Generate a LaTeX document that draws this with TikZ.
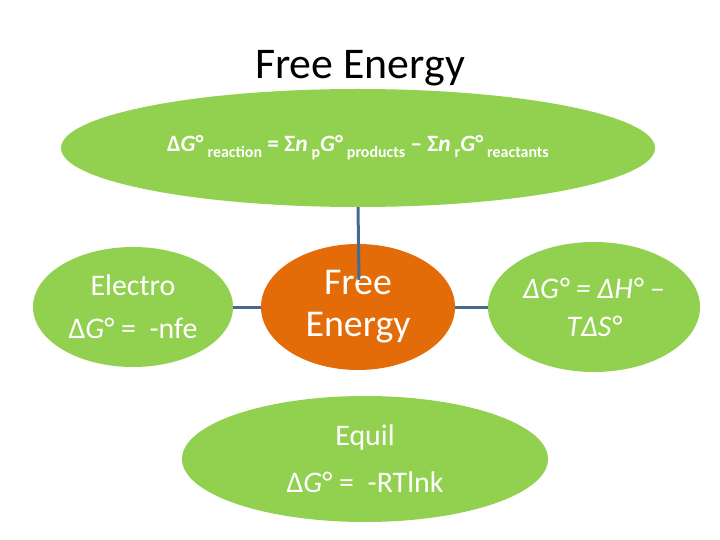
\documentclass[tikz,border=0pt]{standalone}
\usepackage{fontspec}
\setmainfont{Carlito}
\usetikzlibrary{shapes.geometric,positioning}
\definecolor{leafgreen}{RGB}{146,208,80}
\definecolor{hubor}{RGB}{227,108,9}
\definecolor{linkblue}{RGB}{68,106,148}
\newcommand{\lowsub}[1]{\,\raisebox{-0.55ex}{\fontsize{16}{16}\selectfont #1}}

\begin{document}
\begin{tikzpicture}[x=1bp, y=-1bp, every node/.style={font=\fontsize{30}{43}\selectfont}]
\tikzset{
    bubble/.style={ellipse, fill=leafgreen, text=white, inner sep=-14bp, align=center},
    hub/.style={bubble, fill=hubor},
    link/.style={linkblue, line width=3bp}
}
\useasboundingbox (0,0) rectangle (720,540);

% heading
\node[font=\fontsize{44}{44}\selectfont] (title) at (360,68) {Free Energy};

% the five bubbles
\node[bubble, minimum width=594bp, minimum height=118bp, font=\fontsize{23.5}{24}\selectfont\bfseries] (top) at (358,148)
    {Δ\textit{G}°\lowsub{reaction} = Σ\textit{n}\lowsub{p}\textit{G}°\lowsub{products} – Σ\textit{n}\lowsub{r}\textit{G}°\lowsub{reactants}};
\node[hub, minimum width=194bp, minimum height=126bp, font=\fontsize{38}{42}\selectfont] (core) at (358,307) {Free\\Energy};
\node[bubble, minimum width=200bp, minimum height=120bp] (electro) at (133,307) {Electro\\Δ\textit{G}° =~ -nfe};
\node[bubble, minimum width=212bp, minimum height=130bp, font=\fontsize{30}{38}\selectfont\itshape] (gibbs) at (594,307) {ΔG° = ΔH° –\\TΔS°};
\node[bubble, minimum width=366bp, minimum height=126bp] (equil) at (365,459) {Equil\\[4bp]Δ\textit{G}° =~ -RTlnk};

% connectors
\coordinate (stem) at (359,280);
\draw[link] (top.south) -- (stem);
\draw[link] (electro) -- (core);
\draw[link] (core) -- (gibbs);

\end{tikzpicture}
\end{document}
